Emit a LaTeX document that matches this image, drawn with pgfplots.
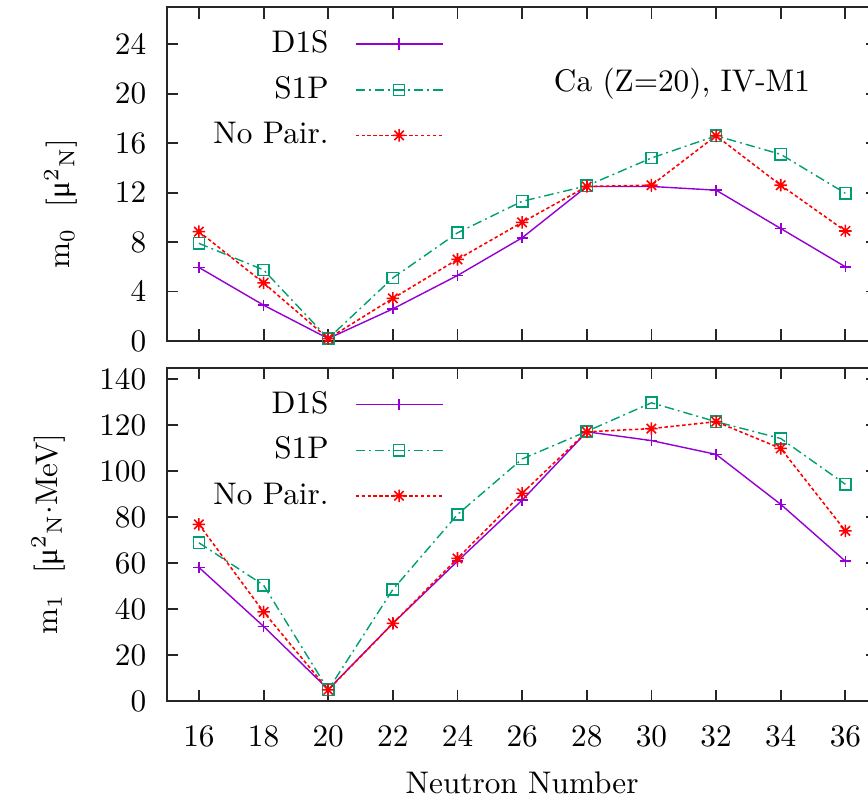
\documentclass[border=0pt]{standalone}
\usepackage{fontspec}
\usepackage{pgfplots}
\pgfplotsset{compat=1.18}
\newfontfamily\mufont{Liberation Serif}
\newcommand{\muN}{{\mufont μ}$^{2}$$_{\mathrm{N}}$}

\definecolor{dviolet}{HTML}{9400D3}
\definecolor{gpgreen}{HTML}{009E73}
\definecolor{gpred}{HTML}{FF0000}

% eight-armed star (plus overlaid with cross)
\pgfdeclareplotmark{gpstar}{%
  \pgfpathmoveto{\pgfqpoint{-\pgfplotmarksize}{0pt}}%
  \pgfpathlineto{\pgfqpoint{\pgfplotmarksize}{0pt}}%
  \pgfpathmoveto{\pgfqpoint{0pt}{-\pgfplotmarksize}}%
  \pgfpathlineto{\pgfqpoint{0pt}{\pgfplotmarksize}}%
  \pgfpathmoveto{\pgfqpoint{-0.75\pgfplotmarksize}{-0.75\pgfplotmarksize}}%
  \pgfpathlineto{\pgfqpoint{0.75\pgfplotmarksize}{0.75\pgfplotmarksize}}%
  \pgfpathmoveto{\pgfqpoint{-0.75\pgfplotmarksize}{0.75\pgfplotmarksize}}%
  \pgfpathlineto{\pgfqpoint{0.75\pgfplotmarksize}{-0.75\pgfplotmarksize}}%
  \pgfusepathqstroke}

\pgfplotsset{
  panel/.style={
    width=227.5pt, height=106.8pt, scale only axis,
    xmin=15, xmax=37, ymin=0,
    xtick={16,18,...,36},
    axis line style={line width=0.6pt, black!85},
    major tick style={line width=0.6pt, black!85},
    major tick length=3.7pt,
    tick align=inside,
    yticklabel style={xshift=-3pt},
    xticklabel style={yshift=-4.3pt},
    legend plot pos=right,
    legend cell align=right,
    legend style={draw=none, fill=none, inner sep=0pt, row sep=2.1pt,
      column sep=6.4pt, anchor=north east, at={(0.39,0.95)}},
    legend image code/.code={%
      \draw[mark repeat=2, mark phase=2] plot coordinates {(0pt,0pt) (13.9pt,0pt) (27.8pt,0pt)};},
  },
  sD/.style={color=dviolet, line width=0.45pt, mark=+, mark size=1.8pt, mark options={solid, line width=0.5pt}},
  sS/.style={color=gpgreen, line width=0.45pt, dash pattern=on 3pt off 1.3pt on 0.6pt off 1.3pt,
    mark=square, mark size=1.8pt, mark options={solid, line width=0.5pt}},
  sN/.style={color=gpred, line width=0.5pt, dash pattern=on 1.1pt off 0.8pt,
    mark=gpstar, mark size=2pt, mark options={solid, line width=0.5pt}},
}

\begin{document}
\begin{tikzpicture}
% ---- m0 panel ----
\begin{axis}[panel, name=top,
  ymax=27, ytick={0,4,...,24}, xticklabels={},
  ylabel={m$_0$~~[\muN]},
  ylabel style={at={(axis description cs:-0.1363,0.4115)}, anchor=base},
]
\addplot[sD] coordinates {(16,5.95) (18,2.9) (20,0.2) (22,2.6) (24,5.3) (26,8.35) (28,12.5) (30,12.5) (32,12.2) (34,9.1) (36,6.0)};
\addplot[sS] coordinates {(16,7.9) (18,5.75) (20,0.2) (22,5.1) (24,8.75) (26,11.3) (28,12.55) (30,14.8) (32,16.6) (34,15.1) (36,11.95)};
\addplot[sN] coordinates {(16,8.85) (18,4.7) (20,0.2) (22,3.45) (24,6.6) (26,9.6) (28,12.5) (30,12.6) (32,16.6) (34,12.6) (36,8.9)};
\legend{D1S, S1P, No Pair.}
\node[anchor=base] at (rel axis cs:0.7248,0.7469) {Ca (Z=20), IV-M1};
\coordinate (tl) at (rel axis cs:0,1);
\end{axis}
% ---- m1 panel ----
\begin{axis}[panel, at={(top.south west)}, anchor=north west, yshift=-8.5pt,
  ymax=145, ytick={0,20,...,140},
  xlabel={Neutron Number},
  xlabel style={at={(axis description cs:0.5,-0.2744)}, anchor=base},
  ylabel={m$_1$~~[\muN$\cdot$MeV]},
  ylabel style={at={(axis description cs:-0.154,0.501)}, anchor=base},
]
\addplot[sD] coordinates {(16,58.2) (18,32.6) (20,5.2) (22,33.9) (24,60.9) (26,87.4) (28,117.1) (30,113.3) (32,107.3) (34,85.6) (36,60.9)};
\addplot[sS] coordinates {(16,68.9) (18,50.5) (20,5.0) (22,48.6) (24,81.2) (26,105.3) (28,117.3) (30,129.7) (32,121.5) (34,114.2) (36,94.3)};
\addplot[sN] coordinates {(16,76.9) (18,38.9) (20,5.0) (22,33.9) (24,62.1) (26,90.4) (28,117.1) (30,118.5) (32,121.5) (34,109.9) (36,74.1)};
\legend{D1S, S1P, No Pair.}
\coordinate (bl) at (rel axis cs:0,0);
\end{axis}
\pgfresetboundingbox
\path[use as bounding box] ([xshift=-53.3pt,yshift=-30.3pt]bl) rectangle ([xshift=224.4pt,yshift=2.3pt]tl);
\end{tikzpicture}
\end{document}
